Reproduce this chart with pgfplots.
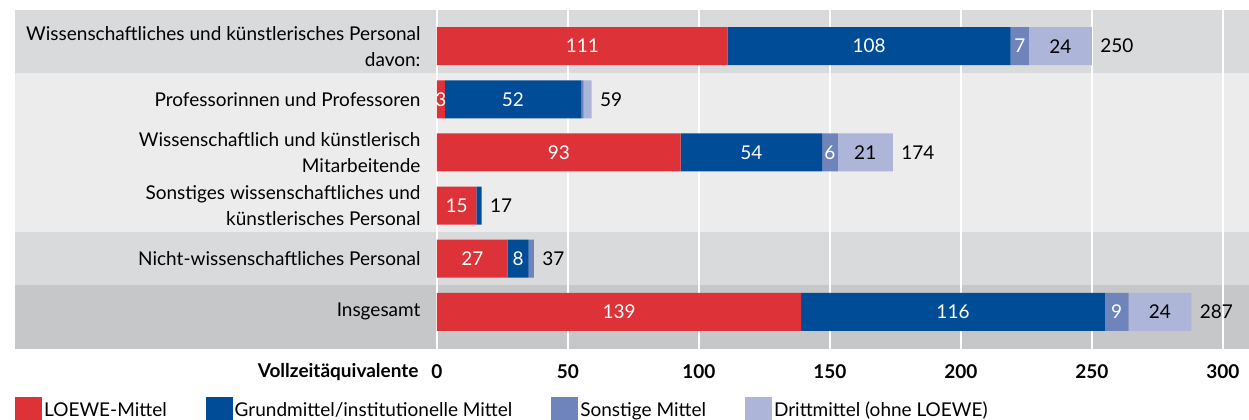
\documentclass[border=0pt]{standalone}
\usepackage{fontspec}
\setmainfont{Lato}
\usepackage{pgfplots}
\pgfplotsset{compat=1.18}
\usetikzlibrary{calc}
\definecolor{loewe}{HTML}{DD3237}
\definecolor{grund}{HTML}{004C97}
\definecolor{sonst}{HTML}{7084BC}
\definecolor{dritt}{HTML}{ADB6D9}
\definecolor{bandA}{HTML}{D9DADC}
\definecolor{bandB}{HTML}{EBECEB}
\definecolor{bandC}{HTML}{C6C7C9}
\newcommand{\fs}{\fontsize{19bp}{26bp}\selectfont}
\pgfplotsset{base/.style={scale only axis, width=812bp, height=339bp,
  xmin=0, xmax=310, ymin=-0.68, ymax=5.7, y dir=reverse, clip=false}}
\begin{document}
\begin{tikzpicture}
\begin{axis}[name=bg, base, hide axis]
\fill[bandA] (axis cs:-161,-0.68) rectangle (axis cs:310,0.5);
\fill[bandB] (axis cs:-161,0.5) rectangle (axis cs:310,3.5);
\fill[bandA] (axis cs:-161,3.5) rectangle (axis cs:310,4.5);
\fill[bandC] (axis cs:-161,4.5) rectangle (axis cs:310,5.7);
\end{axis}
\begin{axis}[name=ax, base, at={(bg.south west)}, anchor=south west,
  xbar stacked, bar width=38bp,
  ytick={0,1,2,3,4,5},
  yticklabels={{Wissenschaftliches und künstlerisches Personal\\davon:},
    {Professorinnen und Professoren},
    {Wissenschaftlich und künstlerisch\\Mitarbeitende},
    {Sonstiges wissenschaftliches und\\künstlerisches Personal},
    {Nicht-wissenschaftliches Personal},
    {Insgesamt}},
  yticklabel style={align=right, font=\fs, xshift=-13bp},
  xtick={0,50,...,300},
  xticklabel style={font=\fs\bfseries, yshift=-12bp},
  /pgf/number format/assume math mode=true,
  xmajorgrids, major grid style={white, line width=2bp},
  axis line style={draw=none}, major tick length=0pt,
  legend columns=4,
  legend style={draw=none, fill=none, font=\fs, at={(axis description cs:-0.5197,-0.1416)}, anchor=north west,
    /tikz/every even column/.append style={column sep=37bp}, inner sep=0pt},
  legend cell align=left,
]
\addplot[fill=loewe, draw=none, legend image code/.code={\fill[loewe] (0bp,-14bp) rectangle (27bp,13bp);}]
  coordinates {(111,0) (3,1) (93,2) (15,3) (27,4) (139,5)};
\addplot[fill=grund, draw=none, legend image code/.code={\fill[grund] (0bp,-14bp) rectangle (27bp,13bp);}]
  coordinates {(108,0) (52,1) (54,2) (2,3) (8,4) (116,5)};
\addplot[fill=sonst, draw=none, legend image code/.code={\fill[sonst] (0bp,-14bp) rectangle (27bp,13bp);}]
  coordinates {(7,0) (1,1) (6,2) (0,3) (2,4) (9,5)};
\addplot[fill=dritt, draw=none, legend image code/.code={\fill[dritt] (0bp,-14bp) rectangle (27bp,13bp);}]
  coordinates {(24,0) (3,1) (21,2) (0,3) (0,4) (24,5)};
\legend{LOEWE-Mittel, Grundmittel/institutionelle Mittel, Sonstige Mittel, Drittmittel (ohne LOEWE)}
\end{axis}
\begin{axis}[base, at={(bg.south west)}, anchor=south west, hide axis,
  point meta=explicit symbolic, nodes near coords]
\addplot[draw=none, every node near coord/.append style={anchor=center, text=white, font=\fs}]
  table[x=x, y=y, meta=l] {
x y l
55.5 0 111
165 0 108
222.5 0 7
1.5 1 3
29 1 52
46.5 2 93
120 2 54
150 2 6
7.5 3 15
13.5 4 27
31 4 8
69.5 5 139
197 5 116
259.5 5 9
};
\addplot[draw=none, every node near coord/.append style={anchor=center, text=black, font=\fs}]
  table[x=x, y=y, meta=l] {
x y l
238 0 24
163.5 2 21
276 5 24
};
\addplot[draw=none, every node near coord/.append style={anchor=west, text=black, font=\fs, xshift=5bp}]
  table[x=x, y=y, meta=l] {
x y l
250 0 250
59 1 59
174 2 174
17 3 17
37 4 37
288 5 287
};
\end{axis}
\node[anchor=base east, font=\fs\bfseries] at ($(bg.south west)+(-15bp,-28bp)$) {Vollzeitäquivalente};
\pgfresetboundingbox
\path ($(bg.south west)+(-437bp,-71bp)$) rectangle ($(bg.north east)+(0bp,10bp)$);
\end{tikzpicture}
\end{document}
